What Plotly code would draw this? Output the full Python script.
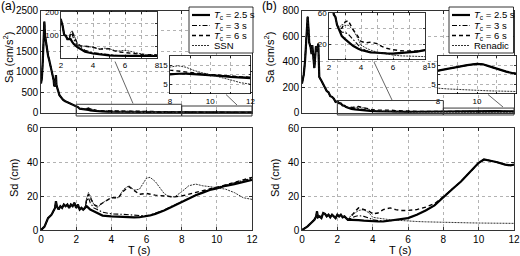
import plotly.graph_objects as go

# ---------------- panel (a) data ----------------
t_sa_head_a = [0, 0.05, 0.1, 0.15, 0.19, 0.23, 0.29, 0.34, 0.4, 0.46, 0.51, 0.57, 0.63, 0.68, 0.72,
               0.75, 0.78, 0.81, 0.85, 0.88, 0.92, 0.97, 1.05, 1.15, 1.25, 1.35, 1.5, 1.6, 1.7, 1.8,
               1.9, 2.0, 2.1, 2.2, 2.3, 2.4, 2.5]
sa_head_a = [720, 850, 1250, 1800, 2230, 1890, 1700, 1610, 1400, 1300, 1210, 1120, 1040, 920, 800,
             650, 780, 640, 920, 680, 600, 540, 430, 370, 320, 290, 260, 225, 210, 185,
             175, 165, 140, 100, 97, 82, 82]
t_sd_head_a = [0, 0.2, 0.4, 0.5, 0.6, 0.7, 0.8, 0.85, 0.9, 1.0, 1.1, 1.2, 1.3, 1.4, 1.5, 1.6, 1.7,
               1.8, 1.9, 2.0, 2.1, 2.2, 2.3, 2.4, 2.5]
sd_head_a = [0, 2, 7, 8, 9, 11, 13, 17, 14, 12, 14, 13, 15, 14, 15, 13, 15, 14, 16, 13, 15, 12, 13, 12, 13]
t_tail_a = [2.6, 2.7, 2.8, 3.0, 3.2, 3.5, 4.0, 4.4, 4.7, 5.0, 5.3, 5.6, 6.0, 6.2, 6.5, 6.8, 7.0, 7.3,
            7.6, 8.0, 8.4, 8.8, 9.2, 9.6, 10.0, 10.5, 11.0, 11.5, 12.0]
sd_tc25_tail_a = [14, 13, 12, 11, 10, 8.5, 8, 7.7, 7.5, 7.5, 7.4, 7.5, 8, 8.5, 9.5, 10.5, 11.5, 13,
                  14.5, 16.5, 18.5, 20.5, 22, 23.5, 24.5, 26, 27, 28.2, 29.5]
sd_tc3_tail_a = [17, 19, 16, 13, 12, 10.5, 9.5, 9.5, 9.2, 9, 8.7, 8.5, 8.5, 8.8, 9.8, 10.8, 11.8, 13.3,
                 14.8, 16.8, 18.8, 20.8, 22.4, 23.9, 25, 26.5, 27.8, 29.2, 30.5]
sd_tc6_tail_a = [18, 21, 19, 15, 14, 16, 19, 19, 23, 25.5, 23, 21, 21.5, 21, 20.5, 20.2, 20, 19.7,
                 19.5, 20, 21, 22, 23, 24.2, 25, 26.5, 28, 29.5, 31]
sd_ssn_tail_a = [19, 22, 20, 15, 13, 16, 19, 19, 24, 26, 23.5, 24, 30.5, 31, 28.5, 24.5, 21.5, 19.5,
                 19.5, 22.5, 26, 27, 26, 25.5, 25, 24, 22, 19, 18]
sa_tc25_tail_a = [81.8, 70.4, 60.4, 48.2, 38.6, 27.4, 19.7, 15.7, 13.4, 11.8, 10.4, 9.4, 8.8, 8.7, 8.9,
                  9.0, 9.3, 9.6, 9.9, 10.2, 10.4, 10.5, 10.3, 10.1, 9.7, 9.3, 8.8, 8.4, 8.1]
sa_tc3_tail_a = [99.3, 102.9, 80.6, 57.0, 46.3, 33.8, 23.4, 19.4, 16.4, 14.2, 12.2, 10.7, 9.3, 9.0, 9.2,
                 9.2, 9.5, 9.9, 10.1, 10.4, 10.5, 10.6, 10.4, 10.2, 9.9, 9.5, 9.1, 8.7, 8.4]
sa_tc6_tail_a = [105.1, 113.7, 95.7, 65.8, 54.0, 51.6, 46.9, 38.7, 41.1, 40.3, 32.3, 26.4, 23.6, 21.6,
                 19.1, 17.3, 16.1, 14.6, 13.3, 12.3, 11.8, 11.2, 10.7, 10.4, 9.9, 9.5, 9.1, 8.8, 8.5]
sa_ssn_tail_a = [111.0, 119.2, 100.7, 65.8, 50.1, 51.6, 46.9, 38.7, 42.9, 41.1, 33.0, 30.2, 33.5, 31.8,
                 26.6, 20.9, 17.3, 14.4, 13.3, 13.9, 14.6, 13.8, 12.1, 10.9, 9.9, 8.6, 7.2, 5.7, 4.9]

# ---------------- panel (b) data ----------------
t_sa_head_b = [0, 0.1, 0.17, 0.25, 0.32, 0.37, 0.41, 0.49, 0.54, 0.58, 0.64, 0.7, 0.79, 0.85, 0.92,
               0.98, 1.1, 1.2, 1.3, 1.4, 1.5, 1.6, 1.7, 1.8, 1.9, 2.0, 2.1, 2.2, 2.3, 2.4, 2.5, 2.6]
sa_head_b = [230, 300, 400, 600, 750, 650, 550, 510, 460, 530, 450, 350, 520, 480, 540,
             280, 250, 220, 200, 170, 160, 130, 125, 110, 85, 90, 75, 73, 58, 55, 45, 40]
t_sd_head_b = [0, 0.3, 0.5, 0.7, 0.8, 0.85, 0.9, 1.0, 1.1, 1.2, 1.3, 1.4, 1.5, 1.6, 1.7, 1.8, 1.9,
               2.0, 2.1, 2.2, 2.3, 2.4, 2.5, 2.6]
sd_head_b = [0, 2, 4, 6, 8, 11, 7.5, 8, 7, 10, 9.5, 8, 9, 7.5, 9, 8, 7, 9, 8, 9, 7.5, 8, 7, 6]
t_tail_b = [2.8, 3.0, 3.2, 3.5, 3.8, 4.0, 4.3, 4.6, 5.0, 5.3, 5.6, 6.0, 6.5, 7.0, 7.5, 8.0, 8.5, 9.0,
            9.5, 10.0, 10.3, 10.6, 11.0, 11.5, 11.8, 12.0]
sd_tc25_tail_b = [6, 6, 5.8, 5.5, 5.2, 5, 5, 5, 5.5, 5.8, 6.2, 7, 9, 11.5, 14.5, 19.5, 24, 28.5, 34,
                  39.5, 41.5, 41, 40, 38.5, 38, 38.5]
sd_tc3_tail_b = [7, 8, 8.5, 8, 7, 6, 5.5, 5.3, 5.5, 5.8, 6.2, 7, 9, 11.5, 14.5, 19.5, 24, 28.5, 34,
                 39.5, 41.5, 41, 40, 38.5, 38, 38.5]
sd_tc6_tail_b = [8, 11, 13, 12, 11, 9.5, 10, 12, 13, 12, 11.5, 11.5, 12, 13.5, 15.5, 19.5, 24, 28.5,
                 34, 39.5, 41.5, 41, 40, 38.5, 38, 38.5]
sd_ren_tail_b = [9, 10, 11.5, 12, 10, 7.5, 7, 6.5, 6, 5.8, 5.5, 5.2, 5, 4.8, 4.6, 4.5, 4.4, 4.3, 4.2,
                 4.1, 4.1, 4.0, 4.0, 3.9, 3.9, 3.9]
sa_tc25_tail_b = [30.2, 26.3, 22.4, 17.7, 14.2, 12.3, 10.7, 9.3, 8.7, 8.1, 7.8, 7.7, 8.4, 9.3, 10.2,
                  12.0, 13.1, 13.9, 14.9, 15.6, 15.4, 14.4, 13.0, 11.5, 10.8, 10.5]
sa_tc3_tail_b = [35.3, 35.1, 32.8, 25.8, 19.1, 14.8, 11.7, 9.9, 8.7, 8.1, 7.8, 7.7, 8.4, 9.3, 10.2,
                 12.0, 13.1, 13.9, 14.9, 15.6, 15.4, 14.4, 13.0, 11.5, 10.8, 10.5]
sa_tc6_tail_b = [40.3, 48.2, 50.1, 38.7, 30.1, 23.4, 21.4, 22.4, 20.5, 16.9, 14.5, 12.6, 11.2, 10.9,
                 10.9, 12.0, 13.1, 13.9, 14.9, 15.6, 15.4, 14.4, 13.0, 11.5, 10.8, 10.5]
sa_ren_tail_b = [45.3, 43.9, 44.3, 38.7, 27.3, 18.5, 14.9, 12.1, 9.5, 8.1, 6.9, 5.7, 4.7, 3.9, 3.2,
                 2.8, 2.4, 2.1, 1.8, 1.6, 1.5, 1.4, 1.3, 1.16, 1.1, 1.07]

labels_a = ["<i>T</i><sub>c</sub> = 2.5 s", "<i>T</i><sub>c</sub> = 3 s", "<i>T</i><sub>c</sub> = 6 s", "SSN"]
labels_b = ["<i>T</i><sub>c</sub> = 2.5 s", "<i>T</i><sub>c</sub> = 3 s", "<i>T</i><sub>c</sub> = 6 s", "Renadic"]
x_ticks_main = [0, 2, 4, 6, 8, 10, 12]
sa_ticks_a = [0, 500, 1000, 1500, 2000, 2500]
sa_ticks_b = [0, 200, 400, 600, 800]
sd_ticks = [0, 20, 40, 60]

# ---------------- assemble ----------------
W, H = 520, 256
def fx(p): return p / W
def fy(p): return 1 - p / H

FONT = "Liberation Sans, Arial, Helvetica, sans-serif"
STY = [dict(color="#000000", width=2.2),
       dict(color="#000000", width=1.1, dash="5px,2px,1.5px,2px"),
       dict(color="#000000", width=1.4, dash="4px,3px"),
       dict(color="#1a1a1a", width=0.9, dash="2px,1px")]

t_sa_a = t_sa_head_a + t_tail_a
t_sd_a = t_sd_head_a + t_tail_a
t_sa_b = t_sa_head_b + t_tail_b
t_sd_b = t_sd_head_b + t_tail_b
sa_a = [sa_head_a + sa_tc25_tail_a, sa_head_a + sa_tc3_tail_a, sa_head_a + sa_tc6_tail_a, sa_head_a + sa_ssn_tail_a]
sd_a = [sd_head_a + sd_tc25_tail_a, sd_head_a + sd_tc3_tail_a, sd_head_a + sd_tc6_tail_a, sd_head_a + sd_ssn_tail_a]
sa_b = [sa_head_b + sa_tc25_tail_b, sa_head_b + sa_tc3_tail_b, sa_head_b + sa_tc6_tail_b, sa_head_b + sa_ren_tail_b]
sd_b = [sd_head_b + sd_tc25_tail_b, sd_head_b + sd_tc3_tail_b, sd_head_b + sd_tc6_tail_b, sd_head_b + sd_ren_tail_b]

fig = go.Figure()

def add(x, y, xa, ya, st):
    fig.add_trace(go.Scatter(x=x, y=y, mode="lines", line=st, xaxis=xa, yaxis=ya,
                             showlegend=False, hoverinfo="skip"))

groups = [
    ("x", "y", t_sa_a, sa_a), ("x2", "y2", t_sd_a, sd_a),
    ("x3", "y3", t_sa_b, sa_b), ("x4", "y4", t_sd_b, sd_b),
    ("x5", "y5", t_sa_a, sa_a), ("x6", "y6", t_sa_a, sa_a),
    ("x7", "y7", t_sa_b, sa_b), ("x8", "y8", t_sa_b, sa_b),
]
for xa, ya, tt, series in groups:
    for k in range(4):
        add(tt, series[k], xa, ya, STY[k])

GRID = dict(gridcolor="#a0a0a0", griddash="dot", gridwidth=0.8)

def axis(size=10, tl=3, minor_vals=None, **kw):
    d = dict(showline=True, linecolor="#000", linewidth=0.8, mirror="allticks", ticks="inside",
             ticklen=tl, tickwidth=0.8, tickcolor="#000", showgrid=True, zeroline=False,
             automargin=False, fixedrange=True,
             tickfont=dict(family=FONT, size=size, color="#000"), **GRID)
    if minor_vals is not None:
        d["minor"] = dict(tickvals=minor_vals, showgrid=True, ticks="inside", ticklen=tl,
                          tickwidth=0.8, tickcolor="#000", **GRID)
    d.update(kw)
    return d

XA = [fx(41), fx(252)]
XB = [fx(302), fx(514)]
YT = [fy(112.8), fy(10.5)]
YB = [fy(230), fy(128)]

layout = dict(
    xaxis=axis(domain=XA, range=[0, 12], tickvals=x_ticks_main, showticklabels=False, anchor="y"),
    yaxis=axis(domain=YT, range=[0, 2500], tickvals=sa_ticks_a, anchor="x"),
    xaxis2=axis(domain=XA, range=[0, 12], tickvals=x_ticks_main, anchor="y2"),
    yaxis2=axis(domain=YB, range=[0, 60], tickvals=sd_ticks, anchor="x2"),
    xaxis3=axis(domain=XB, range=[0, 12], tickvals=x_ticks_main, showticklabels=False, anchor="y3"),
    yaxis3=axis(domain=YT, range=[0, 800], tickvals=sa_ticks_b, anchor="x3"),
    xaxis4=axis(domain=XB, range=[0, 12], tickvals=x_ticks_main, anchor="y4"),
    yaxis4=axis(domain=YB, range=[0, 60], tickvals=sd_ticks, anchor="x4"),
)
layout.update(
    xaxis5=axis(8, 2, [3, 5, 7], domain=[fx(61), fx(157)], range=[2, 8], tickvals=[2, 4, 6, 8], anchor="y5"),
    yaxis5=axis(8, 2, [50, 150], domain=[fy(58), fy(12)], range=[0, 200], tickvals=[100, 200], anchor="x5"),
    xaxis6=axis(8, 2, [9, 11], domain=[fx(170), fx(250.5)], range=[8, 12], tickvals=[8, 10, 12], anchor="y6"),
    yaxis6=axis(8, 2, [10], domain=[fy(93.5), fy(55.5)], range=[0, 20], tickvals=[5, 15], anchor="x6"),
    xaxis7=axis(8, 2, [3, 5, 7], domain=[fx(329), fx(425)], range=[2, 8], tickvals=[2, 4, 6, 8], anchor="y7"),
    yaxis7=axis(8, 2, [40], domain=[fy(59.5), fy(13)], range=[0, 60], tickvals=[20, 60], anchor="x7"),
    xaxis8=axis(8, 2, [9, 11], domain=[fx(438), fx(516)], range=[8, 12], tickvals=[8, 10, 12], anchor="y8"),
    yaxis8=axis(8, 2, [10], domain=[fy(93.5), fy(55.5)], range=[0, 20], tickvals=[5, 15], anchor="x8"),
)

shapes = []
annots = []

def zoom_rect(xa, ya, xr, yr, x0, x1, y0, y1):
    shapes.append(dict(type="rect", xref=xa + " domain", yref=ya + " domain",
                       x0=(x0 - xr[0]) / (xr[1] - xr[0]), x1=(x1 - xr[0]) / (xr[1] - xr[0]),
                       y0=(y0 - yr[0]) / (yr[1] - yr[0]), y1=(y1 - yr[0]) / (yr[1] - yr[0]),
                       line=dict(color="#3a3a3a", width=1), fillcolor="rgba(0,0,0,0)"))

zoom_rect("x", "y", [0, 12], [0, 2500], 2, 8, -78, 208)
zoom_rect("x", "y", [0, 12], [0, 2500], 8, 12, -78, 166)
zoom_rect("x3", "y3", [0, 12], [0, 800], 2, 8, -17, 96)
zoom_rect("x3", "y3", [0, 12], [0, 800], 8, 12, -17, 37)

for hx, hy, tx, ty in [(115, 61.5, 133, 103.5), (226, 94.5, 237, 105),
                       (374, 62, 392, 100), (488, 94.5, 503, 107)]:
    shapes.append(dict(type="line", xref="paper", yref="paper", x0=fx(hx), y0=fy(hy),
                       x1=fx(tx), y1=fy(ty), line=dict(color="#555", width=0.9)))

def legend(bx0, bx1, by0, by1, lx0, lx1, tx, rows, labels):
    shapes.append(dict(type="rect", xref="paper", yref="paper", x0=fx(bx0), x1=fx(bx1),
                       y0=fy(by1), y1=fy(by0), line=dict(color="#000", width=0.8), fillcolor="white"))
    for r, lab, st in zip(rows, labels, STY):
        shapes.append(dict(type="line", xref="paper", yref="paper", x0=fx(lx0), x1=fx(lx1),
                           y0=fy(r), y1=fy(r), line=st))
        annots.append(dict(x=fx(tx), y=fy(r), xref="paper", yref="paper", text=lab, showarrow=False,
                           xanchor="left", yanchor="middle", font=dict(family=FONT, size=9.5, color="#000")))

legend(189, 253, 7, 53, 192, 210, 212, [15, 25.5, 35.5, 45.5], labels_a)
legend(449, 513.5, 7, 53, 452, 470, 472, [15, 25.5, 35.5, 45.5], labels_b)

def text(x, y, s, size=11, angle=0):
    annots.append(dict(x=fx(x), y=fy(y), xref="paper", yref="paper", text=s, showarrow=False,
                       textangle=angle, xanchor="center", yanchor="middle",
                       font=dict(family=FONT, size=size, color="#000")))

text(8, 6, "(a)", 12)
text(269, 6, "(b)", 12)
text(8, 58, "Sa (cm/s<sup>2</sup>)", 11, -90)
text(269, 58, "Sa (cm/s<sup>2</sup>)", 11, -90)
text(14, 178, "Sd (cm)", 11, -90)
text(275, 178, "Sd (cm)", 11, -90)
text(139, 250, "T (s)", 11)
text(400, 250, "T (s)", 11)

fig.update_layout(width=W, height=H, margin=dict(l=0, r=0, t=0, b=0), paper_bgcolor="white",
                  plot_bgcolor="white", showlegend=False, shapes=shapes, annotations=annots,
                  font=dict(family=FONT, color="#000"), **layout)
fig.write_html("out.html", config={"displayModeBar": False, "staticPlot": True},
               post_script="document.body.style.margin='0';document.body.style.overflow='hidden';")
